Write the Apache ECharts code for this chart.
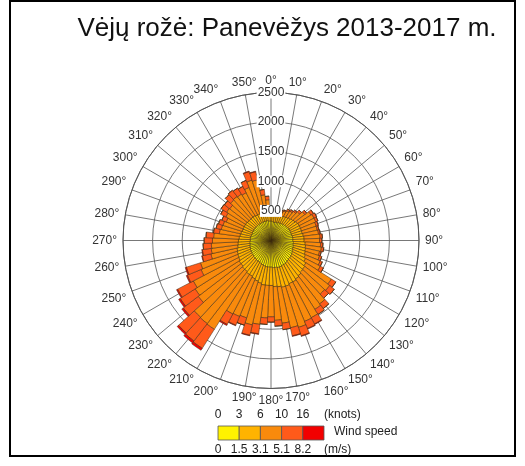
<!DOCTYPE html>
<html><head><meta charset="utf-8">
<script src="https://cdn.jsdelivr.net/npm/echarts@6/dist/echarts.min.js"></script>
<style>html,body{margin:0;padding:0;background:#fff}#c{width:525px;height:466px}</style>
</head><body><div id="c"></div>
<script>
// Direction bins (degrees, 5° sectors)
const directions = ['0','5','10','15','20','25','30','35','40','45','50','55','60','65','70','75','80','85','90','95','100','105','110','115','120','125','130','135','140','145','150','155','160','165','170','175','180','185','190','195','200','205','210','215','220','225','230','235','240','245','250','255','260','265','270','275','280','285','290','295','300','305','310','315','320','325','330','335','340','345','350','355'];
// Wind speed classes (m/s)
const speedClasses = ['0–1.5', '1.5–3.1', '3.1–5.1', '5.1–8.2', '≥8.2'];
const speedColors = ['#FFF200', '#FFB300', '#F98A0C', '#FF5A1A', '#F20000'];
// Counts per class per direction
const cls1 = [330,320,310,320,320,330,330,340,340,350,350,360,360,360,360,360,370,370,370,380,380,390,390,400,410,420,430,430,440,450,460,460,470,470,460,460,450,450,450,440,430,420,410,410,400,400,390,390,380,380,370,370,360,360,350,350,350,340,340,340,340,340,340,340,340,340,340,340,340,340,340,330];
const cls2 = [120,110,110,110,120,120,130,130,140,150,160,170,180,180,180,180,180,190,190,200,210,210,220,230,250,280,290,300,310,320,330,330,340,340,330,320,310,310,310,300,290,280,270,270,260,260,250,250,240,230,230,220,210,200,200,190,180,180,170,170,170,170,160,160,160,160,150,150,150,150,140,130];
const cls3 = [60,60,60,70,80,90,110,120,140,160,210,270,280,280,260,260,260,270,260,260,270,240,250,270,280,510,530,500,600,610,680,690,730,700,620,570,530,550,670,720,650,690,720,1100,1110,1100,910,880,860,670,650,450,450,450,440,430,350,340,340,310,350,380,380,430,440,430,420,480,580,560,300,230];
const cls4 = [40,30,20,20,20,20,30,30,30,40,40,50,50,40,40,30,30,40,40,40,40,30,40,40,60,90,100,90,100,100,120,130,150,140,110,100,90,110,160,180,130,160,200,380,370,360,320,300,300,250,250,150,150,140,140,130,100,90,80,80,100,110,110,120,130,120,120,130,150,140,90,60];
const cls5 = [0,0,0,0,0,0,0,0,0,0,0,0,0,0,0,0,0,0,0,0,0,0,0,0,0,0,0,0,0,0,10,10,10,10,0,0,0,0,10,10,0,10,20,40,40,30,30,30,20,20,20,10,10,0,0,0,0,0,0,0,0,0,0,0,0,0,0,0,10,10,0,0];
const classData = [cls1, cls2, cls3, cls4, cls5];
// Axis ticks
const radiusTicks = [0, 500, 1000, 1500, 2000, 2500];
const knotLabels = ['0', '3', '6', '10', '16'];
const msLabels = ['0', '1.5', '3.1', '5.1', '8.2'];

const FONT = 'Liberation Sans, Arial, sans-serif';
const center = [271, 240.5];
const R = 148;
const rMax = radiusTicks[radiusTicks.length - 1];
const rStep = radiusTicks[1] - radiusTicks[0];

const chart = echarts.init(document.getElementById('c'), null, {renderer: 'canvas'});

const series = classData.map((d, i) => ({
  type: 'bar',
  name: speedClasses[i],
  coordinateSystem: 'polar',
  polarIndex: 0,
  stack: 'wind',
  data: d,
  barCategoryGap: '0%',
  itemStyle: {color: speedColors[i], borderColor: '#3a2810', borderWidth: 0.5},
  emphasis: {disabled: true},
  silent: true
}));

// legend colour bar
const lgX0 = 218, lgW = 21.2, lgY = 426, lgH = 14;
const graphics = [];
graphics.push({type: 'rect', shape: {x: 10, y: 1, width: 505, height: 455}, style: {fill: 'none', stroke: '#000', lineWidth: 2}, z: 100});
graphics.push({type: 'text', x: 287, y: 29, style: {text: 'Vėjų rožė: Panevėžys 2013-2017 m.', font: '26px ' + FONT, fill: '#111', textAlign: 'center', textVerticalAlign: 'middle'}, z: 100});
speedColors.forEach((c, i) => {
  graphics.push({type: 'rect', shape: {x: lgX0 + i * lgW, y: lgY, width: lgW, height: lgH}, style: {fill: c, stroke: '#555', lineWidth: 0.8}, z: 100});
});
knotLabels.forEach((t, i) => {
  graphics.push({type: 'text', x: lgX0 + i * lgW, y: 415, style: {text: t, font: '12px ' + FONT, fill: '#222', textAlign: 'center', textVerticalAlign: 'middle'}, z: 100});
});
msLabels.forEach((t, i) => {
  graphics.push({type: 'text', x: lgX0 + i * lgW, y: 450, style: {text: t, font: '12px ' + FONT, fill: '#222', textAlign: 'center', textVerticalAlign: 'middle'}, z: 100});
});
graphics.push({type: 'text', x: 324, y: 415, style: {text: '(knots)', font: '12px ' + FONT, fill: '#222', textAlign: 'left', textVerticalAlign: 'middle'}, z: 100});
graphics.push({type: 'text', x: 324, y: 450, style: {text: '(m/s)', font: '12px ' + FONT, fill: '#222', textAlign: 'left', textVerticalAlign: 'middle'}, z: 100});
graphics.push({type: 'text', x: 334, y: 432, style: {text: 'Wind speed', font: '12px ' + FONT, fill: '#222', textAlign: 'left', textVerticalAlign: 'middle'}, z: 100});

chart.setOption({
  animation: false,
  backgroundColor: '#fff',
  polar: [
    {center: center, radius: R},
    {center: center, radius: R},
    {center: center, radius: R}
  ],
  angleAxis: [
    {polarIndex: 0, type: 'category', data: directions, startAngle: 92.5, clockwise: true, boundaryGap: true,
     axisLine: {show: false}, axisTick: {show: false}, axisLabel: {show: false}, splitLine: {show: false}},
    {polarIndex: 1, type: 'value', min: 0, max: 360, interval: 10, startAngle: 90, clockwise: true,
     axisLine: {show: true, lineStyle: {color: '#555', width: 1}}, axisTick: {show: false},
     axisLabel: {formatter: '{value}°', margin: 6, fontSize: 12, color: '#333', fontFamily: FONT},
     splitLine: {show: true, lineStyle: {color: '#555', width: 0.8}}},
    {polarIndex: 2, type: 'value', min: 0, max: 360, startAngle: 90, clockwise: true, show: false}
  ],
  radiusAxis: [
    {polarIndex: 0, type: 'value', min: 0, max: rMax, show: false},
    {polarIndex: 1, type: 'value', min: 0, max: rMax, interval: rStep,
     axisLine: {show: false}, axisTick: {show: false}, axisLabel: {show: false},
     splitLine: {show: true, lineStyle: {color: '#555', width: 0.8}}},
    {polarIndex: 2, type: 'value', min: 0, max: rMax, interval: rStep, z: 10,
     axisLine: {show: false}, axisTick: {show: false}, splitLine: {show: false},
     axisLabel: {showMinLabel: false, margin: 0, align: 'center', verticalAlign: 'middle', backgroundColor: '#fff',
                 formatter: v => String(v),
                 padding: [0, 1], fontSize: 12, color: '#333', fontFamily: FONT}}
  ],
  series: series,
  graphic: graphics
});
</script>
</body></html>
